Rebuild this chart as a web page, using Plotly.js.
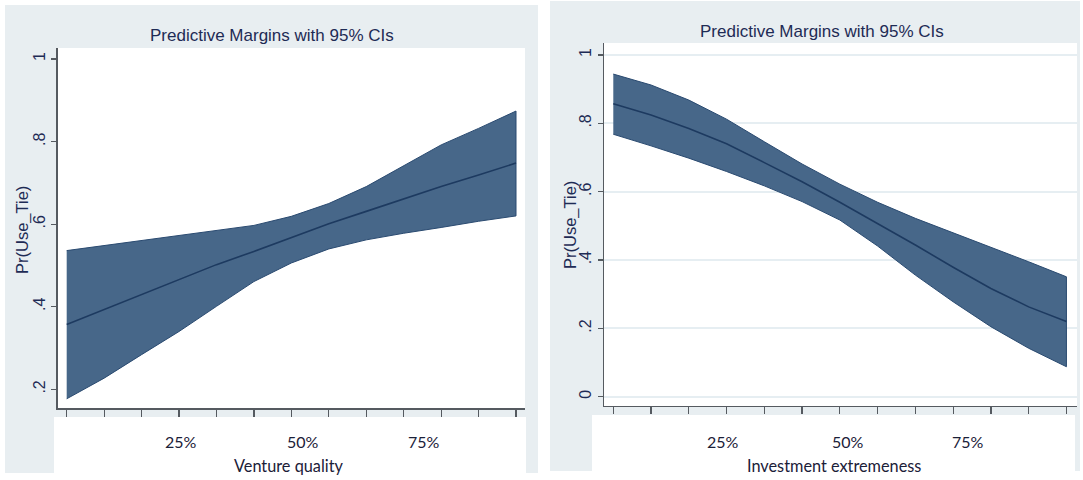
<!DOCTYPE html>
<html>
<head>
<meta charset="utf-8">
<script src="https://cdn.plot.ly/plotly-3.0.1.min.js"></script>
<style>html,body{margin:0;padding:0;background:#fff;}#chart{width:1083px;height:480px;}</style>
</head>
<body>
<div id="chart"></div>
<script>
// ---- data (13 evaluation points per panel) ----
const steps = [0,1,2,3,4,5,6,7,8,9,10,11,12];

// Left: Venture quality
const vqMean  = [0.357,0.393,0.429,0.465,0.502,0.534,0.568,0.601,0.631,0.661,0.691,0.719,0.748];
const vqUpper = [0.536,0.548,0.560,0.572,0.584,0.597,0.619,0.650,0.691,0.742,0.792,0.832,0.874];
const vqLower = [0.177,0.227,0.284,0.340,0.401,0.461,0.506,0.540,0.562,0.578,0.592,0.607,0.620];

// Right: Investment extremeness
const ieMean  = [0.857,0.824,0.785,0.740,0.685,0.629,0.569,0.507,0.444,0.379,0.317,0.263,0.220];
const ieUpper = [0.944,0.912,0.868,0.812,0.746,0.681,0.622,0.569,0.522,0.480,0.439,0.395,0.351];
const ieLower = [0.768,0.734,0.698,0.659,0.617,0.571,0.517,0.441,0.356,0.278,0.205,0.142,0.088];

const xTickLabels = ["25%","50%","75%"];
const chartTitle = "Predictive Margins with 95% CIs";
const yTitle = "Pr(Use_Tie)";
const xTitles = ["Venture quality","Investment extremeness"];
const leftYTicks = [0.2,0.4,0.6,0.8,1];
const leftYText = [".2",".4",".6",".8","1"];
const leftGrid = [0.2,0.4,0.6,0.8];
const rightYTicks = [0,0.2,0.4,0.6,0.8,1];
const rightYText = ["0",".2",".4",".6",".8","1"];

// ---- style ----
const W = 1083, H = 480;
const px = v => v / W;
const py = v => 1 - v / H;
const bandFill = "rgb(71,103,137)";
const bandEdge = "#2a4a70";
const meanCol = "#1d3a60";
const panelBg = "#e8eef1";
const gridCol = "#e6eef2";
const axisCol = "#555a60";
const navy = "#1e2b55";
const arial = "Liberation Sans, Arial, sans-serif";
const calib = "Lato, Noto Sans, sans-serif";

function band(xs, up, lo, xa, ya) {
  const bx = xs.concat(xs.slice().reverse());
  const by = up.concat(lo.slice().reverse());
  return {x: bx, y: by, xaxis: xa, yaxis: ya, type: "scatter", mode: "lines",
    fill: "toself", fillcolor: bandFill, line: {color: bandEdge, width: 1}, hoverinfo: "skip", showlegend: false};
}
function meanLine(xs, m, xa, ya) {
  return {x: xs, y: m, xaxis: xa, yaxis: ya, type: "scatter", mode: "lines",
    line: {color: meanCol, width: 1.6}, showlegend: false};
}

const traces = [
  band(steps, vqUpper, vqLower, "x", "y"),
  meanLine(steps, vqMean, "x", "y"),
  band(steps, ieUpper, ieLower, "x2", "y2"),
  meanLine(steps, ieMean, "x2", "y2")
];

const xBase = {tickvals: steps, showticklabels: false, ticks: "outside", ticklen: 7, tickwidth: 1.2,
  tickcolor: axisCol, showline: true, linecolor: axisCol, linewidth: 1.5, showgrid: false, zeroline: false, fixedrange: true};
const yBase = {tickangle: -90, ticks: "outside", ticklen: 5, tickwidth: 1.2, tickcolor: axisCol,
  showline: true, linecolor: axisCol, linewidth: 1.5, zeroline: false, fixedrange: true,
  tickfont: {family: arial, size: 16, color: navy}};

const layout = {
  width: W, height: H,
  margin: {l: 0, r: 0, t: 0, b: 0},
  paper_bgcolor: "#ffffff",
  plot_bgcolor: "rgba(0,0,0,0)",
  showlegend: false,
  xaxis: Object.assign({}, xBase, {domain: [px(57.7), px(525)], range: [-0.24, 12.24], anchor: "y"}),
  yaxis: Object.assign({}, yBase, {domain: [py(408.3), py(48.3)], range: [0.154, 1.026], anchor: "x",
    tickvals: leftYTicks, ticktext: leftYText, showgrid: false}),
  yaxis3: {overlaying: "y", domain: [py(408.3), py(48.3)], range: [0.154, 1.026], anchor: "x",
    tickvals: leftGrid, showticklabels: false, ticks: "", showgrid: true, gridcolor: gridCol, gridwidth: 2,
    showline: false, zeroline: false, fixedrange: true},
  xaxis2: Object.assign({}, xBase, {domain: [px(604), px(1077)], range: [-0.246, 12.28], anchor: "y2"}),
  yaxis2: Object.assign({}, yBase, {domain: [py(405.7), py(43.3)], range: [-0.026, 1.034], anchor: "x2",
    tickvals: rightYTicks, ticktext: rightYText, showgrid: true, gridcolor: gridCol, gridwidth: 2}),
  shapes: [
    {type: "rect", xref: "paper", yref: "paper", layer: "below", x0: px(5), x1: px(538), y0: py(473), y1: py(5), fillcolor: panelBg, line: {width: 0}},
    {type: "rect", xref: "paper", yref: "paper", layer: "below", x0: px(550), x1: px(1080), y0: py(471), y1: py(1), fillcolor: panelBg, line: {width: 0}},
    {type: "rect", xref: "paper", yref: "paper", layer: "below", x0: px(58), x1: px(525), y0: py(408), y1: py(48), fillcolor: "#ffffff", line: {width: 0}},
    {type: "rect", xref: "paper", yref: "paper", layer: "below", x0: px(604), x1: px(1077), y0: py(406), y1: py(43), fillcolor: "#ffffff", line: {width: 0}},
    {type: "rect", xref: "paper", yref: "paper", layer: "below", x0: px(54), x1: px(526), y0: py(473), y1: py(417), fillcolor: "#ffffff", line: {width: 0}},
    {type: "rect", xref: "paper", yref: "paper", layer: "below", x0: px(592), x1: px(1075), y0: py(471), y1: py(415), fillcolor: "#ffffff", line: {width: 0}}
  ],
  annotations: []
};

function ann(text, x, y, font, extra) {
  layout.annotations.push(Object.assign({text: text, x: px(x), y: py(y), xref: "paper", yref: "paper",
    xanchor: "center", yanchor: "middle", showarrow: false, font: font}, extra || {}));
}
const titleFont = {family: arial, size: 17, color: navy};
ann(chartTitle, 272, 36, titleFont);
ann(chartTitle, 822, 32, titleFont);
const yTitleFont = {family: arial, size: 16.5, color: navy};
ann(yTitle, 22, 230, yTitleFont, {textangle: -90});
ann(yTitle, 570, 225, yTitleFont, {textangle: -90});
const xlabFont = {family: calib, size: 16, color: "#1b2038"};
const leftLabX = [181, 303, 424], rightLabX = [723, 848, 968];
xTickLabels.forEach((t, i) => { ann(t, leftLabX[i], 441, xlabFont); ann(t, rightLabX[i], 441, xlabFont); });
const xTitleFont = {family: calib, size: 16.3, color: "#1b2038"};
ann(xTitles[0], 289, 465, xTitleFont);
ann(xTitles[1], 834, 465, xTitleFont);

Plotly.newPlot("chart", traces, layout, {staticPlot: true, displayModeBar: false});
</script>
</body>
</html>
